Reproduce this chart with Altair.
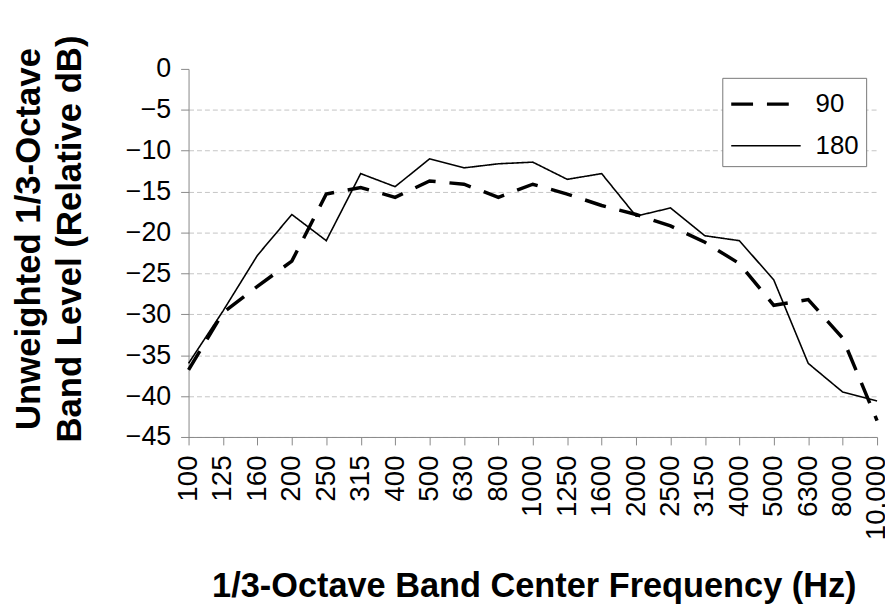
import altair as alt
import pandas as pd

freqs = ["100", "125", "160", "200", "250", "315", "400", "500", "630", "800",
         "1000", "1250", "1600", "2000", "2500", "3150", "4000", "5000", "6300",
         "8000", "10,000"]
level_90 = [-36.8, -29.8, -26.6, -23.5, -15.3, -14.5, -15.7, -13.7, -14.1, -15.7,
            -14.1, -15.3, -16.7, -17.8, -19.2, -21.2, -23.8, -28.9, -28.2, -32.9, -43.0]
level_180 = [-36.0, -29.6, -22.8, -17.8, -21.0, -12.8, -14.4, -11.0, -12.1, -11.6,
             -11.4, -13.5, -12.8, -18.0, -17.0, -20.4, -21.0, -25.8, -36.0, -39.5, -40.6]
series_names = ["90", "180"]
y_ticks = [0, -5, -10, -15, -20, -25, -30, -35, -40, -45]

rows = []
for f, a, b in zip(freqs, level_90, level_180):
    rows.append({"freq": f, "level": a, "series": "90"})
    rows.append({"freq": f, "level": b, "series": "180"})
df = pd.DataFrame(rows)

font = "Liberation Sans"

legend = alt.Legend(
    title=None, orient="none", legendX=538, legendY=9,
    symbolType="M-1,0H3", symbolSize=1225, symbolStrokeColor="black",
    labelFont=font, labelFontSize=26, labelColor="black", labelOffset=48,
    padding=7, rowPadding=10, strokeColor="#777777", fillColor="white",
)

chart = alt.Chart(df).mark_line(color="black").encode(
    x=alt.X("freq:N", sort=freqs, scale=alt.Scale(type="point", padding=0),
            axis=alt.Axis(
                title="1/3-Octave Band Center Frequency (Hz)",
                titleFont=font, titleFontSize=34.6, titleFontWeight="bold", titleColor="black",
                titleX=348, titleY=161, titleBaseline="alphabetic", titleAlign="center",
                labelAngle=270, labelAlign="right", labelBaseline="middle",
                labelFont=font, labelFontSize=28, labelColor="black", labelPadding=10,
                tickSize=8, tickColor="#888888", domainColor="#888888", grid=False,
                labelOverlap=False)),
    y=alt.Y("level:Q", scale=alt.Scale(domain=[-45, 0], nice=False),
            axis=alt.Axis(
                title=["Unweighted 1/3-Octave", "Band Level (Relative dB)"],
                titleFont=font, titleFontSize=35, titleFontWeight="bold", titleColor="black",
                titleAngle=270, titleX=-150, titleY=171, titleBaseline="alphabetic",
                titleAlign="center", titleLineHeight=41,
                values=y_ticks, labelFont=font, labelFontSize=27, labelColor="black",
                labelPadding=10, tickSize=8, tickColor="#888888", domainColor="#888888",
                grid=True, gridColor="#c4c4c4", gridDash=[5, 3],
                gridOpacity=alt.condition("datum.value == 0", alt.value(0), alt.value(1)))),
    strokeDash=alt.StrokeDash("series:N",
                              scale=alt.Scale(domain=series_names, range=[[22, 14], [1, 0]]),
                              legend=legend),
    strokeWidth=alt.StrokeWidth("series:N",
                                scale=alt.Scale(domain=series_names, range=[3.5, 1.6]),
                                legend=legend),
).properties(
    width=694, height=371,
    autosize=alt.AutoSizeParams(type="none"),
    padding={"left": 182, "top": 59, "right": 8, "bottom": 170},
).configure_view(stroke=None)

chart.save("out.html", embed_options={"renderer": "svg", "actions": False})
